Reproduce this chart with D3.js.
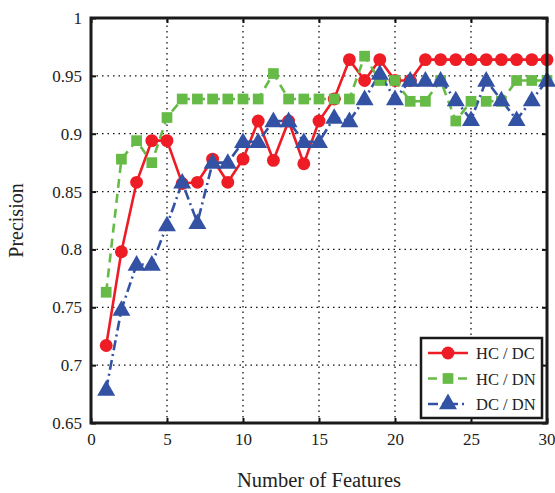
<!DOCTYPE html>
<html>
<head>
  <meta charset="UTF-8">
  <title>Precision vs Number of Features</title>
  <script src="https://cdn.jsdelivr.net/npm/d3@7"></script>
  <style>
    body { margin: 0; background: #fff; }
    text { font-family: "Liberation Serif", "DejaVu Serif", serif; fill: #222; }
  </style>
</head>
<body>
  <div id="chart"></div>
  <script>
    // feature counts 1..30
    const features = d3.range(1, 31);

    const hcDc = [0.717, 0.798, 0.858, 0.894, 0.894, 0.857, 0.858, 0.878, 0.858, 0.878,
                  0.911, 0.877, 0.911, 0.874, 0.911, 0.930, 0.964, 0.946, 0.964, 0.946,
                  0.946, 0.964, 0.964, 0.964, 0.964, 0.964, 0.964, 0.964, 0.964, 0.964];
    const hcDn = [0.763, 0.878, 0.894, 0.875, 0.914, 0.930, 0.930, 0.930, 0.930, 0.930,
                  0.930, 0.952, 0.930, 0.930, 0.930, 0.930, 0.930, 0.967, 0.946, 0.946,
                  0.928, 0.928, 0.946, 0.911, 0.928, 0.928, 0.928, 0.946, 0.946, 0.946];
    const dcDn = [0.679, 0.748, 0.787, 0.787, 0.821, 0.858, 0.823, 0.875, 0.875, 0.893,
                  0.893, 0.911, 0.911, 0.893, 0.893, 0.914, 0.911, 0.930, 0.952, 0.930,
                  0.946, 0.946, 0.946, 0.929, 0.912, 0.946, 0.929, 0.912, 0.929, 0.946];

    const xTicks = [0, 5, 10, 15, 20, 25, 30];
    const yTicks = [0.65, 0.7, 0.75, 0.8, 0.85, 0.9, 0.95, 1];

    const series = [
      { name: 'HC / DC', values: hcDc, color: '#ee1c25', dash: null,         symbol: d3.symbolCircle,   size: 130 },
      { name: 'HC / DN', values: hcDn, color: '#66bb46', dash: '9,6',        symbol: d3.symbolSquare,   size: 115 },
      { name: 'DC / DN', values: dcDn, color: '#3352a4', dash: '10,4,2,4',   symbol: d3.symbolTriangle, size: 140 }
    ];

    const serif = '"Liberation Serif", "DejaVu Serif", serif';
    const width = 555, height = 493;
    const margin = { left: 91, right: 8, top: 18, bottom: 70 };

    const svg = d3.select('#chart').append('svg')
      .attr('width', width)
      .attr('height', height);

    const x = d3.scaleLinear().domain([0, 30]).range([margin.left, width - margin.right]);
    const y = d3.scaleLinear().domain([0.65, 1]).range([height - margin.bottom, margin.top]);

    // dotted grid
    const grid = svg.append('g');
    grid.selectAll('.gx').data(xTicks.slice(1, -1)).enter().append('line')
      .attr('x1', d => x(d)).attr('x2', d => x(d))
      .attr('y1', y(0.65)).attr('y2', y(1))
      .attr('stroke', '#111').attr('stroke-width', 1.3).attr('stroke-dasharray', '1.5,4');
    grid.selectAll('.gy').data(yTicks.slice(1, -1)).enter().append('line')
      .attr('y1', d => y(d)).attr('y2', d => y(d))
      .attr('x1', x(0)).attr('x2', x(30))
      .attr('stroke', '#111').attr('stroke-width', 1.3).attr('stroke-dasharray', '1.5,4');

    // axes with inward ticks
    const xAxis = svg.append('g')
      .attr('transform', `translate(0,${y(0.65)})`)
      .call(d3.axisBottom(x).tickValues(xTicks).tickSize(-5).tickPadding(10).tickFormat(d3.format('d')));
    const yAxis = svg.append('g')
      .attr('transform', `translate(${x(0)},0)`)
      .call(d3.axisLeft(y).tickValues(yTicks).tickSize(-5).tickPadding(9).tickFormat(d => d === 1 ? '1' : d3.format('')(d)));
    svg.append('g')
      .attr('transform', `translate(0,${y(1)})`)
      .call(d3.axisTop(x).tickValues(xTicks).tickSize(-5).tickFormat(''));
    svg.append('g')
      .attr('transform', `translate(${x(30)},0)`)
      .call(d3.axisRight(y).tickValues(yTicks).tickSize(-5).tickFormat(''));

    svg.selectAll('.domain').remove();
    svg.selectAll('.tick line').attr('stroke', '#111').attr('stroke-width', 2);
    [xAxis, yAxis].forEach(a => a.attr('font-family', serif).selectAll('text')
      .style('font-family', serif).style('font-size', '17px').attr('fill', '#222'));
    // the last x label sits against the right edge, like the reference
    xAxis.selectAll('.tick text').filter(d => d === 30).attr('text-anchor', 'end').attr('dx', '8');

    // data lines and markers
    const line = d3.line().x((d, i) => x(features[i])).y(d => y(d));

    series.forEach(s => {
      svg.append('path')
        .datum(s.values)
        .attr('d', line)
        .attr('fill', 'none')
        .attr('stroke', s.color)
        .attr('stroke-width', 2.6)
        .attr('stroke-dasharray', s.dash);
    });
    series.forEach(s => {
      svg.append('g').selectAll('path').data(s.values).enter().append('path')
        .attr('d', d3.symbol().type(s.symbol).size(s.size))
        .attr('transform', (d, i) => `translate(${x(features[i])},${y(d) + (s.symbol === d3.symbolTriangle ? 1 : 0)})`)
        .attr('fill', s.color);
    });

    // frame
    svg.append('rect')
      .attr('x', x(0)).attr('y', y(1))
      .attr('width', x(30) - x(0)).attr('height', y(0.65) - y(1))
      .attr('fill', 'none').attr('stroke', '#1a1a1a').attr('stroke-width', 3);

    // legend
    const lg = svg.append('g').attr('transform', 'translate(421,338)');
    lg.append('rect')
      .attr('width', 121).attr('height', 80)
      .attr('fill', '#fff').attr('stroke', '#1a1a1a').attr('stroke-width', 2.5);
    series.forEach((s, i) => {
      const row = lg.append('g').attr('transform', `translate(0,${15 + i * 25.5})`);
      row.append('line')
        .attr('x1', 7).attr('x2', 47).attr('y1', 0).attr('y2', 0)
        .attr('stroke', s.color).attr('stroke-width', 2.6)
        .attr('stroke-dasharray', s.dash);
      row.append('path')
        .attr('d', d3.symbol().type(s.symbol).size(s.size))
        .attr('transform', 'translate(27,0)')
        .attr('fill', s.color);
      row.append('text')
        .attr('x', 55).attr('y', 6)
        .style('font-size', '16.5px')
        .text(s.name);
    });

    // axis titles
    svg.append('text')
      .attr('x', (x(0) + x(30)) / 2).attr('y', 487)
      .attr('text-anchor', 'middle')
      .style('font-size', '20.5px')
      .text('Number of Features');
    svg.append('text')
      .attr('transform', `translate(23,${(y(0.65) + y(1)) / 2}) rotate(-90)`)
      .attr('text-anchor', 'middle')
      .style('font-size', '20px')
      .text('Precision');
  </script>
</body>
</html>
